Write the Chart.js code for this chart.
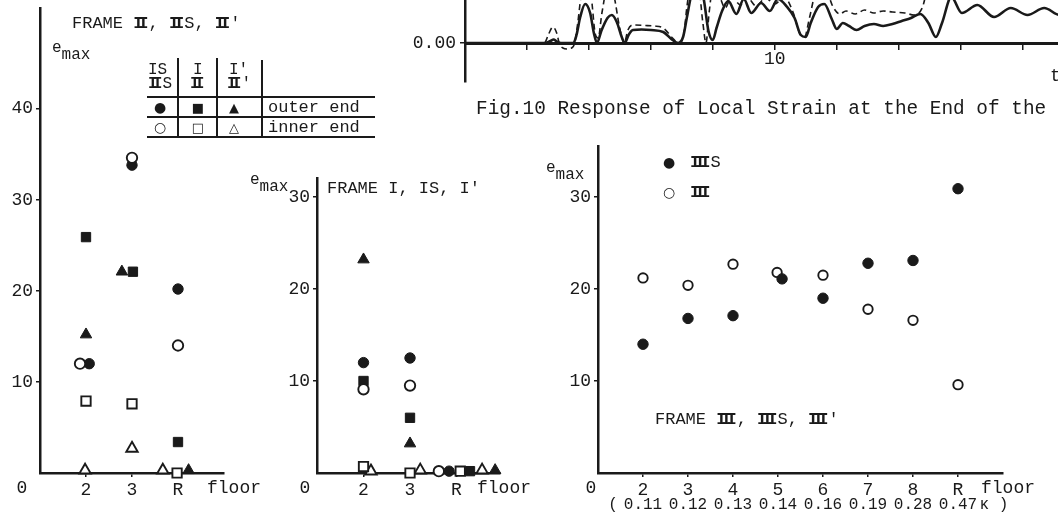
<!DOCTYPE html>
<html>
<head>
<meta charset="utf-8">
<script src="https://cdn.jsdelivr.net/npm/chart.js@4.4.0/dist/chart.umd.min.js"></script>
<style>
    html, body { margin: 0; padding: 0; background: #fff; }
    body { width: 1058px; height: 516px; position: relative; overflow: hidden;
           font-family: "Liberation Mono", "DejaVu Sans Mono", "DejaVu Sans", monospace; color: #1a1a1a; }
    canvas { position: absolute; }
    .t { position: absolute; white-space: pre; font-size: 17px; line-height: 1; }
    .sym { font-family: "DejaVu Sans", sans-serif; }
    .rn { letter-spacing: -0.3em; padding-right: 0.3em; font-weight: bold; }
    .rule { position: absolute; background: #1a1a1a; }
</style>
</head>
<body>
<canvas id="traceChart"></canvas>
<canvas id="frame2Chart"></canvas>
<canvas id="frame1Chart"></canvas>
<canvas id="frame3Chart"></canvas>

<script>
const ink = '#1a1a1a';
const tickFont = { family: '"Liberation Mono", monospace', size: 18 };

// floors on the horizontal axes
const shortFloors = ['2', '3', 'R'];
const allFloors = ['2', '3', '4', '5', '6', '7', '8', 'R'];
const kappaValues = ['0.11', '0.12', '0.13', '0.14', '0.16', '0.19', '0.28', '0.47'];

// FRAME II, IIS, II'  (slot 1 = 2nd floor, 2 = 3rd floor, 3 = roof)
const iisOuterSlot = [1.07, 2.0, 3.0];
const iisOuter = [12.0, 33.8, 20.2];
const iisInnerSlot = [0.87, 2.0, 3.0];
const iisInner = [12.0, 34.6, 14.0];
const iiOuterSlot = [1.0, 2.02, 3.0];
const iiOuter = [25.9, 22.1, 3.4];
const iiInnerSlot = [1.0, 2.0, 2.98];
const iiInner = [7.9, 7.6, 0.0];
const iiPOuterSlot = [1.0, 1.78, 3.23];
const iiPOuter = [15.2, 22.1, 0.3];
const iiPInnerSlot = [0.98, 2.0, 2.67];
const iiPInner = [0.3, 2.7, 0.3];

// FRAME I, IS, I'
const isOuterSlot = [1.0, 2.0, 2.84];
const isOuter = [12.0, 12.5, 0.2];
const isInnerSlot = [1.0, 2.0, 2.62];
const isInner = [9.1, 9.5, 0.2];
const iOuterSlot = [1.0, 2.0, 3.29];
const iOuter = [10.0, 6.0, 0.2];
const iInnerSlot = [1.0, 2.0, 3.08];
const iInner = [0.7, 0.0, 0.2];
const iPOuterSlot = [1.0, 2.0, 3.83];
const iPOuter = [23.2, 3.2, 0.3];
const iPInnerSlot = [1.16, 2.22, 3.55];
const iPInner = [0.2, 0.3, 0.3];

// FRAME III, IIIS
const iiisSlot = [1, 2, 3, 4.09, 5, 6, 7, 8];
const iiis = [14.0, 16.8, 17.1, 21.1, 19.0, 22.8, 23.1, 30.9];
const iiiSlot = [1, 2, 3, 3.98, 5, 6, 7, 8];
const iii = [21.2, 20.4, 22.7, 21.8, 21.5, 17.8, 16.6, 9.6];

// local strain time history (Fig.10)
const solidTime = [5.0, 6.30, 6.38, 6.43, 6.48, 6.55, 6.75, 6.80, 6.86, 6.94, 7.02, 7.08, 7.13, 7.20, 7.30, 7.37,
    7.45, 7.53, 7.58, 7.64, 7.71, 7.85, 8.00, 8.20, 8.35, 8.44, 8.52, 8.58, 8.66, 8.75, 8.85, 8.93, 9.00, 9.06,
    9.15, 9.25, 9.38, 9.50, 9.62, 9.78, 9.92, 10.05, 10.20, 10.32, 10.42, 10.50, 10.58, 10.70, 10.80, 10.92,
    11.00, 11.10, 11.20, 11.32, 11.45, 11.60, 11.75, 11.90, 12.05, 12.20, 12.35, 12.48, 12.60, 12.70, 12.85,
    13.02, 13.27, 13.54, 13.81, 14.08, 14.35, 14.60, 14.85, 15.10];
const solidStrain = [0, 0, 0.2, 0.35, 0.15, 0, 0, 0.8, 2.6, 3.9, 3.0, 1.0, 0, 1.2, 2.5, 2.8,
    2.1, 0.6, 0, 0.8, 1.3, 1.35, 1.3, 1.1, 0.3, 0, 0.6, 2.5, 5.0, 6.0, 4.5, 1.2, 0.3, 1.5,
    3.2, 4.2, 2.9, 4.4, 3.0, 4.0, 3.2, 4.4, 3.6, 2.5, 0.8, 0.6, 2.0, 3.6, 3.9, 2.4,
    1.4, 2.0, 1.7, 1.3, 1.7, 1.9, 1.7, 1.9, 2.2, 2.5, 2.9, 2.0, 0.6, 2.0, 4.6,
    3.0, 3.8, 2.6, 3.5, 2.8, 3.5, 2.8, 3.4, 2.8];
const dashedTime = [5.0, 6.28, 6.35, 6.42, 6.48, 6.52, 6.58, 6.65, 6.72, 6.77, 6.82, 6.88, 6.96, 7.04, 7.10, 7.15,
    7.21, 7.30, 7.40, 7.50, 7.57, 7.63, 7.71, 7.90, 8.05, 8.20, 8.35, 8.44, 8.53, 8.58, 8.66, 8.75, 8.84, 8.89,
    8.94, 9.00, 9.10, 9.20, 9.30, 9.45, 9.55, 9.70, 9.85, 10.00, 10.15, 10.30, 10.40, 10.48, 10.56, 10.66,
    10.80, 10.95, 11.05, 11.15, 11.30, 11.45, 11.60, 11.75, 11.90, 12.10, 12.25, 12.38, 12.45, 12.55, 15.10];
const dashedStrain = [0, 0, 0.9, 1.6, 1.0, 0, -0.5, -0.6, -0.5, 0, 2.0, 5.0, 6.5, 4.5, 1.0, 0.5,
    3.0, 5.5, 4.8, 1.4, 0, 1.3, 1.8, 1.75, 1.7, 1.5, 0.5, 0, 0.8, 3.5, 6.5, 6.5, 2.0, 0,
    3.0, 5.5, 4.8, 3.5, 4.6, 3.8, 4.6, 3.7, 4.5, 3.9, 4.6, 3.0, 1.0, 0.6, 2.5, 5.0,
    5.5, 3.5, 2.9, 3.2, 2.9, 3.3, 3.0, 3.2, 3.1, 3.0, 2.8, 3.5, 5.0, 6.0, 6.0];

function pts(xs, ys) {
    return xs.map((x, i) => ({ x: x, y: ys[i] }));
}

function marker(style, radius, filled, data) {
    return {
        data: data,
        pointStyle: style,
        pointRadius: radius,
        pointBackgroundColor: filled ? ink : '#fff',
        pointBorderColor: ink,
        pointBorderWidth: filled ? 1 : 1.9,
        clip: false
    };
}

function place(canvas, left, top, width, height) {
    canvas.width = width;
    canvas.height = height;
    canvas.style.left = left + 'px';
    canvas.style.top = top + 'px';
    canvas.style.width = width + 'px';
    canvas.style.height = height + 'px';
}

// fixed width for a y axis, and no extra room kept for its end labels
function fixYAxis(width) {
    return s => {
        s.width = width;
        s.paddingTop = 0;
        s.paddingBottom = 0;
    };
}

// typewriter roman numerals: struck I's set tight so the serifs join
function rn(s) {
    return s.replace(/Ⅲ/g, '<span class="rn">III</span>')
            .replace(/Ⅱ/g, '<span class="rn">II</span>')
            .replace(/Ⅰ/g, 'I');
}

function label(html, x, y, opt = {}) {
    const el = document.createElement('div');
    el.className = 't' + (opt.cls ? ' ' + opt.cls : '');
    el.innerHTML = rn(html);
    el.style.left = x + 'px';
    el.style.top = y + 'px';
    if (opt.size) el.style.fontSize = opt.size + 'px';
    el.style.transform = `translate(${opt.center ? '-50%' : '0'}, -50%)`;
    document.body.appendChild(el);
    return el;
}

function rule(x, y, w, h) {
    const el = document.createElement('div');
    el.className = 'rule';
    el.style.left = x + 'px';
    el.style.top = y + 'px';
    el.style.width = w + 'px';
    el.style.height = h + 'px';
    document.body.appendChild(el);
}

function panelChart(canvas, datasets, cfg) {
    return new Chart(canvas, {
        type: 'scatter',
        data: { datasets: datasets },
        options: {
            responsive: false,
            animation: false,
            events: [],
            layout: { padding: { top: cfg.padTop, right: cfg.padRight, left: 0, bottom: 0 } },
            plugins: { legend: { display: false }, tooltip: { enabled: false } },
            scales: {
                x: {
                    type: 'linear',
                    min: 0,
                    max: cfg.xMax,
                    afterBuildTicks: s => { s.ticks = cfg.floors.map((f, i) => ({ value: i + 1 })); },
                    afterFit: s => { s.height = cfg.xAxisH; },
                    ticks: {
                        callback: v => cfg.floors[v - 1] || '',
                        font: tickFont, color: ink, padding: 2, maxRotation: 0, autoSkip: false
                    },
                    grid: { drawOnChartArea: false, drawTicks: true, tickLength: 4, color: ink, tickColor: ink, lineWidth: 1.5 },
                    border: { color: ink, width: 2.5 }
                },
                y: {
                    min: 0,
                    max: cfg.yMax,
                    afterBuildTicks: s => { s.ticks = cfg.yTicks.map(v => ({ value: v })); },
                    afterFit: fixYAxis(cfg.yAxisW),
                    ticks: { callback: v => String(v), font: tickFont, color: ink, padding: 3 },
                    grid: { drawOnChartArea: false, drawTicks: true, tickLength: 4, color: ink, tickColor: ink, lineWidth: 1.5 },
                    border: { color: ink, width: 2.5 }
                }
            }
        }
    });
}

// ---- Fig.10 strain trace (top right) ----
// plot area: page y 0..82 with the zero line at y=43
const traceCanvas = document.getElementById('traceChart');
place(traceCanvas, 380, 0, 720, 100);
new Chart(traceCanvas, {
    type: 'line',
    data: {
        datasets: [
            { data: pts(solidTime, solidStrain), borderColor: ink, borderWidth: 2.6, pointRadius: 0,
              cubicInterpolationMode: 'monotone' },
            { data: pts(dashedTime, dashedStrain), borderColor: ink, borderWidth: 1.6, borderDash: [6, 4],
              pointRadius: 0, cubicInterpolationMode: 'monotone' }
        ]
    },
    options: {
        responsive: false,
        animation: false,
        events: [],
        layout: { padding: { top: 0, right: 0, left: 0, bottom: 18 } },
        plugins: { legend: { display: false }, tooltip: { enabled: false } },
        scales: {
            x: {
                type: 'linear',
                position: { y: 0 },
                min: 5,
                max: 15.25,
                afterBuildTicks: s => {
                    const ticks = [];
                    for (let t = 5; t <= 15; t++) ticks.push({ value: t });
                    s.ticks = ticks;
                },
                ticks: { callback: v => (v === 10 ? '10' : ''), font: tickFont, color: ink, padding: 0,
                         maxRotation: 0, autoSkip: false },
                grid: { drawOnChartArea: false, drawTicks: true, tickLength: 5, color: ink, tickColor: ink, lineWidth: 1.5 },
                border: { color: ink, width: 3 }
            },
            y: {
                min: -3.9,
                max: 4.3,
                afterBuildTicks: s => { s.ticks = [{ value: 0 }]; },
                afterFit: fixYAxis(85),
                ticks: { callback: () => '0.00', font: tickFont, color: ink, padding: 4 },
                grid: { drawOnChartArea: false, drawTicks: true, tickLength: 5, color: ink, tickColor: ink, lineWidth: 1.5 },
                border: { color: ink, width: 2.5 }
            }
        }
    }
});

// ---- FRAME II, IIS, II' ----
const frame2Canvas = document.getElementById('frame2Chart');
place(frame2Canvas, 0, 0, 240, 516);
panelChart(frame2Canvas, [
    marker('circle', 5.2, false, pts(iisInnerSlot, iisInner)),
    marker('circle', 5.2, true, pts(iisOuterSlot, iisOuter)),
    marker('rect', 6.6, true, pts(iiOuterSlot, iiOuter)),
    marker('rect', 6.6, false, pts(iiInnerSlot, iiInner)),
    marker('triangle', 6.6, true, pts(iiPOuterSlot, iiPOuter)),
    marker('triangle', 6.6, false, pts(iiPInnerSlot, iiPInner))
], { xMax: 4, yMax: 51, yTicks: [10, 20, 30, 40], floors: shortFloors,
     padTop: 4, padRight: 16, xAxisH: 43, yAxisW: 40 });

// ---- FRAME I, IS, I' ----
const frame1Canvas = document.getElementById('frame1Chart');
place(frame1Canvas, 267, 150, 253, 366);
panelChart(frame1Canvas, [
    marker('circle', 5.2, true, pts(isOuterSlot, isOuter)),
    marker('circle', 5.2, false, pts(isInnerSlot, isInner)),
    marker('rect', 6.6, true, pts(iOuterSlot, iOuter)),
    marker('rect', 6.6, false, pts(iInnerSlot, iInner)),
    marker('triangle', 6.6, true, pts(iPOuterSlot, iPOuter)),
    marker('triangle', 6.6, false, pts(iPInnerSlot, iPInner))
], { xMax: 3.935, yMax: 32, yTicks: [10, 20, 30], floors: shortFloors,
     padTop: 28.6, padRight: 20, xAxisH: 43, yAxisW: 50 });

// ---- FRAME III, IIIS, III' ----
const frame3Canvas = document.getElementById('frame3Chart');
place(frame3Canvas, 548, 120, 465, 396);
const frame3 = panelChart(frame3Canvas, [
    marker('circle', 5.2, true, pts(iiisSlot, iiis)),
    marker('circle', 4.7, false, pts(iiiSlot, iii))
], { xMax: 9, yMax: 35.5, yTicks: [10, 20, 30], floors: allFloors,
     padTop: 26.4, padRight: 10, xAxisH: 43, yAxisW: 50 });

// ---- texts ----
const emax = '<span>e</span><span style="position:relative;top:7px">max</span>';

// left panel
label('FRAME Ⅱ, ⅡS, Ⅱ\'', 72, 23);
label(emax, 52, 48, { size: 16 });
label('0', 22, 488, { center: true, size: 18 });
label('floor', 234, 488, { center: true, size: 18 });

// table of symbols
label('ⅠS', 148, 70, { size: 16 });
label('ⅡS', 148, 84, { size: 16 });
label('Ⅰ', 193, 70, { size: 16 });
label('Ⅱ', 190, 84, { size: 16 });
label('Ⅰ\'', 229, 70, { size: 16 });
label('Ⅱ\'', 227, 84, { size: 16 });
rule(147, 96, 228, 2);
rule(147, 116, 228, 2);
rule(147, 136, 228, 2);
rule(177, 58, 1.5, 80);
rule(216, 58, 1.5, 80);
rule(261, 60, 1.5, 78);
label('●', 160, 107, { center: true, size: 14, cls: 'sym' });
label('■', 198, 107, { center: true, size: 13, cls: 'sym' });
label('▲', 234, 107, { center: true, size: 13, cls: 'sym' });
label('○', 160, 127, { center: true, size: 14, cls: 'sym' });
label('□', 198, 127, { center: true, size: 13, cls: 'sym' });
label('△', 234, 127, { center: true, size: 13, cls: 'sym' });
label('outer end', 268, 107);
label('inner end', 268, 127);

// middle panel
label(emax, 250, 180, { size: 16 });
label('FRAME Ⅰ, ⅠS, Ⅰ\'', 327, 188);
label('0', 305, 488, { center: true, size: 18 });
label('floor', 504, 488, { center: true, size: 18 });

// right panel
label(emax, 546, 168, { size: 16 });
label('●', 669, 162, { center: true, size: 14, cls: 'sym' });
label('ⅢS', 690, 162);
label('○', 669, 192, { center: true, size: 14, cls: 'sym' });
label('Ⅲ', 690, 192);
label('FRAME Ⅲ, ⅢS, Ⅲ\'', 655, 419);
label('0', 591, 488, { center: true, size: 18 });
label('floor', 1008, 488, { center: true, size: 18 });

// kappa row under the floors, lined up with the floor ticks
const xs3 = frame3.scales.x;
const canvasLeft3 = 548;
label('(', canvasLeft3 + xs3.getPixelForValue(1) - 30, 505, { center: true, size: 16 });
kappaValues.forEach((k, i) => {
    label(k, canvasLeft3 + xs3.getPixelForValue(i + 1), 505, { center: true, size: 16 });
});
label('κ )', canvasLeft3 + xs3.getPixelForValue(8) + 36, 505, { center: true, size: 16 });

// strain figure caption
label('t', 1050, 76, { size: 18 });
label('Fig.10 Response of Local Strain at the End of the', 476, 110, { size: 19.4 });
</script>
</body>
</html>
